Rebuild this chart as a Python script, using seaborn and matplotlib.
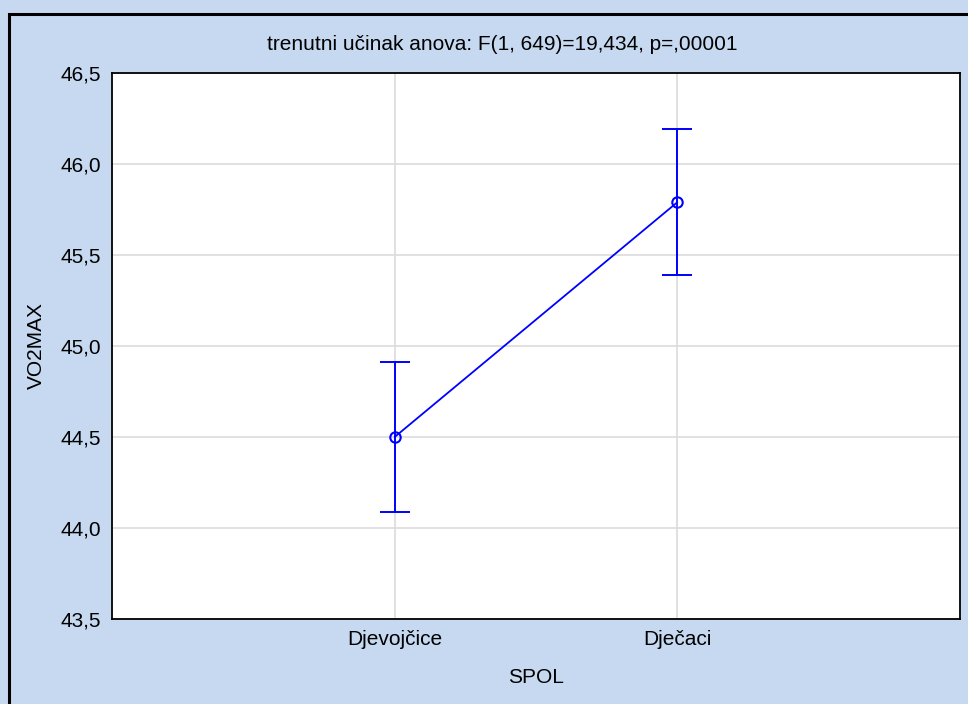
import numpy as np
import pandas as pd
import seaborn as sns
import matplotlib.pyplot as plt
from matplotlib.patches import Rectangle
from matplotlib.ticker import FuncFormatter

# Podaci očitani s grafa
spol = ['Djevojčice', 'Dječaci']
vo2max = [44.50, 45.79]
ci_donja = [44.09, 45.39]
ci_gornja = [44.91, 46.19]

df = pd.DataFrame({'SPOL': spol, 'VO2MAX': vo2max})

sns.set_style('white')
plt.rcParams['font.family'] = ['Liberation Sans', 'DejaVu Sans']
plt.rcParams['text.color'] = 'black'
plt.rcParams['axes.labelcolor'] = 'black'
plt.rcParams['xtick.color'] = 'black'
plt.rcParams['ytick.color'] = 'black'

fig = plt.figure(figsize=(9.68, 7.04), dpi=100)
fig.patch.set_facecolor('#C6D9F0')
fig.patches.append(Rectangle((8.5 / 968, -0.05), 1.2, 1.05 - 13.5 / 704,
                             transform=fig.transFigure, fill=False,
                             edgecolor='black', linewidth=2.2, zorder=0))

ax = fig.add_axes([112 / 968, 1 - 619 / 704, 848 / 968, 546 / 704])
ax.set_facecolor('white')

sns.pointplot(data=df, x='SPOL', y='VO2MAX', color='#0000FF', errorbar=None,
              markers='o', linestyles='-', markersize=7.5, markeredgewidth=1.5,
              markerfacecolor='none', linewidth=1.3, ax=ax, zorder=5)

# intervali pouzdanosti
x = np.arange(len(spol))
yerr = [np.array(vo2max) - np.array(ci_donja), np.array(ci_gornja) - np.array(vo2max)]
ax.errorbar(x, vo2max, yerr=yerr, fmt='none', ecolor='#0000FF', elinewidth=1.4,
            capsize=10.5, capthick=1.4, zorder=4)

ax.set_xlim(-1, 2)
ax.set_ylim(43.5, 46.5)
ax.set_yticks(np.arange(43.5, 46.51, 0.5))
ax.yaxis.set_major_formatter(FuncFormatter(lambda v, p: f'{v:.1f}'.replace('.', ',')))
ax.grid(True, color='#DCDCDC', linewidth=1.2)
ax.set_axisbelow(True)
for s in ax.spines.values():
    s.set_visible(True)
    s.set_color('black')
    s.set_linewidth(1.3)
ax.tick_params(axis='both', length=3, width=1, labelsize=15, pad=5)

ax.set_xlabel('SPOL', fontsize=15)
ax.set_ylabel('VO2MAX', fontsize=15)
ax.xaxis.set_label_coords(0.5, (619 - 668) / 546)
ax.yaxis.set_label_coords((46 - 112) / 848, 0.5)
fig.text(502 / 968, 1 - 44 / 704, 'trenutni učinak anova: F(1, 649)=19,434, p=,00001',
         ha='center', va='center', fontsize=15)

plt.savefig('out.png', dpi=100, facecolor=fig.get_facecolor())
